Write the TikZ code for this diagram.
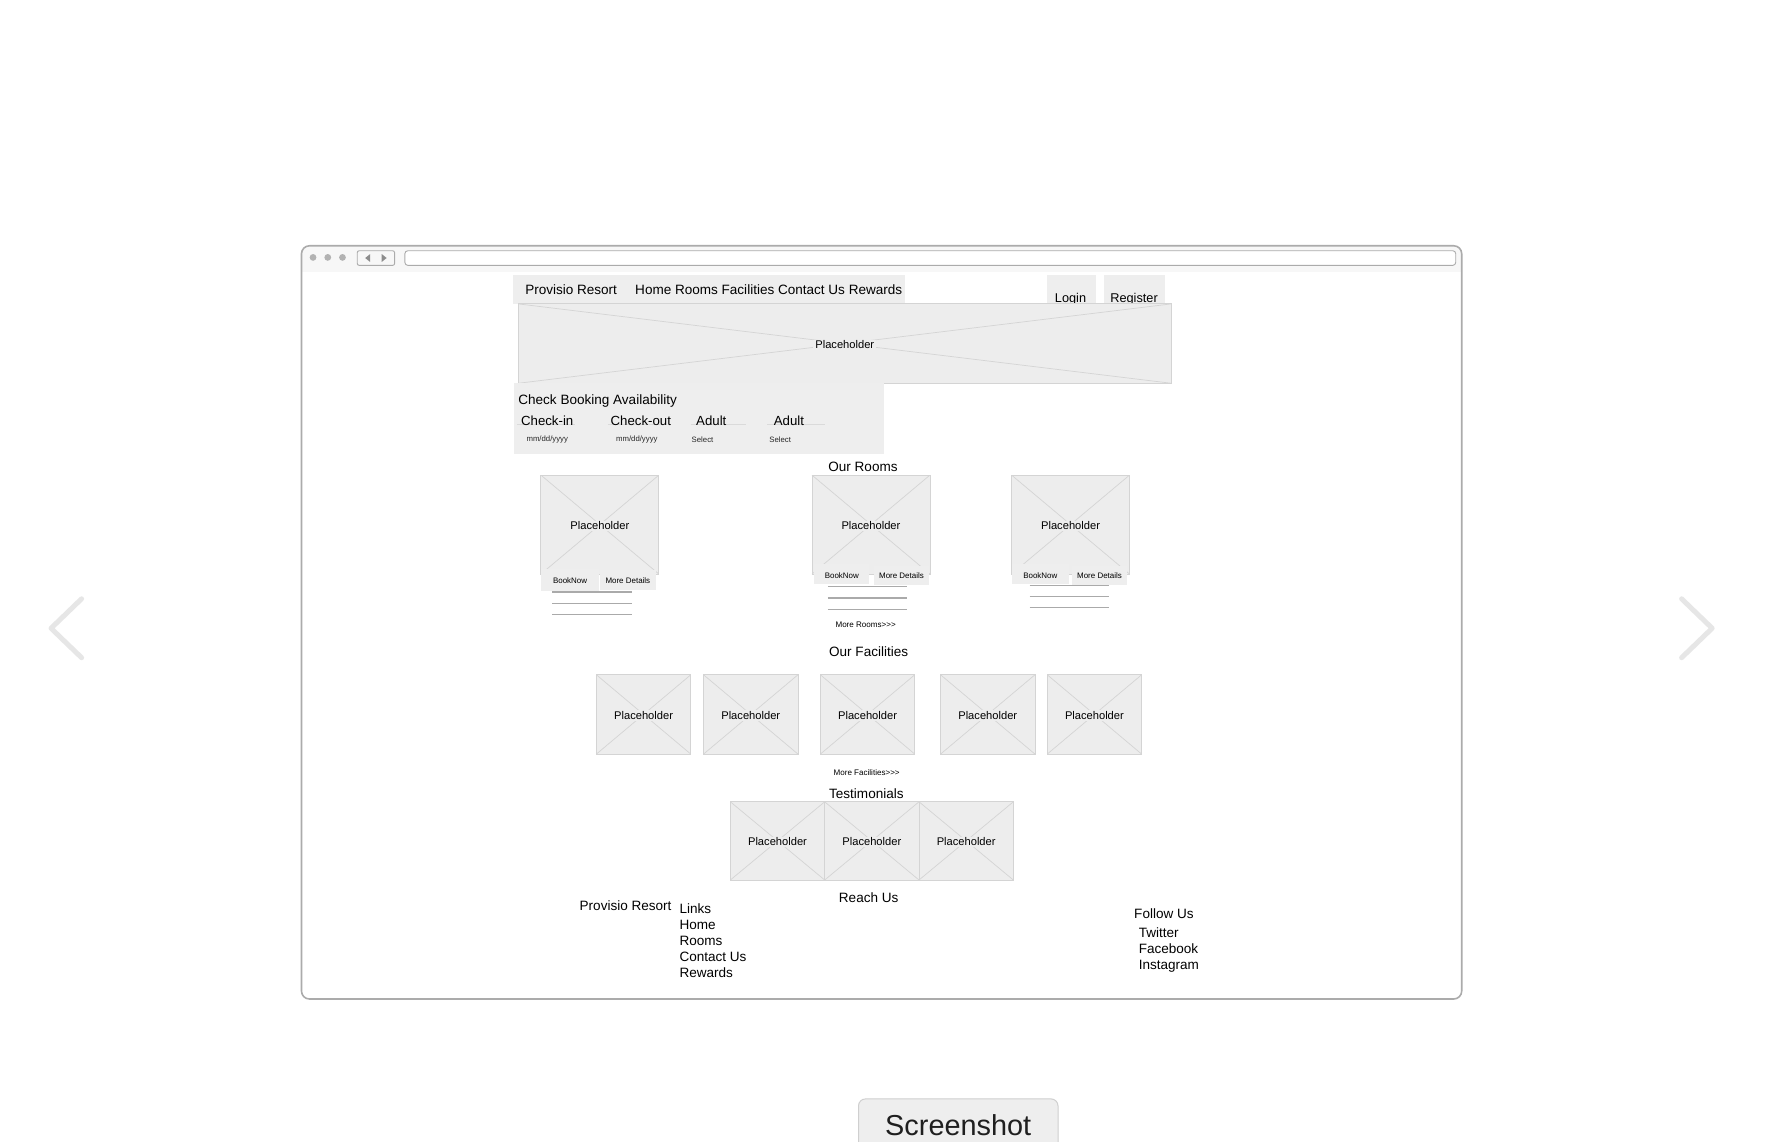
\documentclass[tikz,border=0pt]{standalone}
\usepackage{fontspec}
\setmainfont{Liberation Sans}

\definecolor{phfill}{HTML}{EDEDED}
\definecolor{phline}{HTML}{D4D4D4}
\definecolor{barfill}{HTML}{EEEEEE}
\definecolor{framegray}{HTML}{ABABAB}
\definecolor{toolbar}{HTML}{F7F7F7}
\definecolor{fieldline}{HTML}{DADADA}
\definecolor{infoline}{HTML}{AAAAAA}
\definecolor{chevgray}{HTML}{E6E6E6}
\definecolor{shotline}{HTML}{CFCFCF}

\begin{document}
\begin{tikzpicture}[x=1pt, y=-1pt]
    \tikzset{
      base/.style={inner sep=0pt, text height=0.72em, text depth=0pt},
      txt/.style={base, yshift=-2pt, font=\fontsize{13.6}{16}\selectfont},
      loginfont/.style={base, yshift=-2pt, font=\fontsize{12.8}{15}\selectfont},
      tinytxt/.style={base, yshift=-2pt, text=black!85, font=\fontsize{7.8}{9}\selectfont},
      phlabel/.style={base, yshift=-1pt, fill=phfill, inner xsep=2pt, inner ysep=1.5pt, font=\fontsize{11.2}{13}\selectfont},
      placeholder/.style={draw=phline, fill=phfill, inner sep=0pt, line width=0.9pt,
        path picture={\draw[phline, line width=0.7pt]
          (path picture bounding box.north west) -- (path picture bounding box.south east)
          (path picture bounding box.north east) -- (path picture bounding box.south west);},
        label={[phlabel]center:Placeholder}},
      panel/.style={fill=barfill, inner sep=0pt, anchor=north west},
      button/.style={base, fill=barfill, font=\fontsize{8}{9}\selectfont},
      chevron/.style={chevgray, line width=5pt, line cap=round, line join=round},
    }
    \useasboundingbox (0,0) rectangle (1786.9,1147.7);
    \clip (0,0) rectangle (1786.9,1147.7);
    \fill[white] (0,0) rectangle (1786.9,1147.7);

    % browser window
    \begin{scope}
      \clip[rounded corners=8] (303,247) rectangle (1469,1004);
      \fill[toolbar] (303,247) rectangle (1469,273);
    \end{scope}
    \draw[framegray, line width=1.6pt, rounded corners=8] (303,247) rectangle (1469,1004);
    \foreach \x in {314.6,329.4,344.2}
      \fill[black!30] (\x,258.7) circle (3.4);
    \draw[framegray, line width=0.9pt, rounded corners=2] (359,252) rectangle (396.6,266.7);
    \fill[black!45] (367,259.3) -- (372,255.3) -- (372,263.3) -- cycle;
    \fill[black!45] (388.6,259.3) -- (383.6,255.3) -- (383.6,263.3) -- cycle;
    \draw[framegray, line width=0.9pt, rounded corners=3, fill=white] (406.9,252) rectangle (1463,266.7);

    % header
    \node[panel, minimum width=394.4pt, minimum height=29.6pt] (navbar) at (515.1,275.8) {};
    \node[txt, anchor=west] (brand) at (527.7,290.6) {Provisio Resort};
    \node[txt, anchor=west] (menu) at (638.2,290.6) {Home Rooms Facilities Contact Us Rewards};
    \node[panel, minimum width=49pt, minimum height=34pt] (loginbox) at (1052,275.8) {};
    \node[panel, minimum width=61.5pt, minimum height=34pt] (registerbox) at (1109,275.8) {};
    \node[loginfont] (login) at (1075.9,298.6) {Login};
    \node[loginfont] (register) at (1139.7,298.6) {Register};
    \node[placeholder, minimum width=656.5pt, minimum height=79.8pt] (hero) at (849,345.3) {};

    % booking form
    \node[panel, minimum width=371.5pt, minimum height=70.7pt] (booking) at (516.3,385.2) {};
    \node[txt, anchor=west] (bookingtitle) at (520.8,401.2) {Check Booking Availability};
    \foreach \x/\w/\tx/\t [count=\i] in {520/58/523.5/Check-in, 611/57/613.5/Check-out, 694/56/699.5/Adult, 771/58/777.5/Adult} {
      \draw[fieldline, line width=0.8pt] (\x,427) -- ++(\w,0);
      \node[txt, anchor=west, font=\fontsize{13.3}{16}\selectfont] (field\i) at (\tx,421.7) {\t};
    }
    \node[tinytxt] (checkindate) at (550,438) {mm/dd/yyyy};
    \node[tinytxt] (checkoutdate) at (640,438) {mm/dd/yyyy};
    \node[tinytxt, anchor=west] (adultselect) at (695,439) {Select};
    \node[tinytxt, anchor=west] (childselect) at (773,439) {Select};

    % rooms
    \node[txt] (roomstitle) at (867.3,468.4) {Our Rooms};
    \foreach \x [count=\i] in {602.9,875.3,1075.9}
      \node[placeholder, minimum width=118.6pt, minimum height=99.5pt] (room\i) at (\x,527.2) {};
    \foreach \x/\y in {555/595, 832/589.6, 1034.7/588.3}
      \foreach \d in {0,11.3,22.6}
        \draw[infoline, line width=1.2pt] (\x,\y+\d) -- ++(80,0);
    \node[button, minimum width=58.3pt, minimum height=22pt] (book1) at (572.9,582.5) {BookNow};
    \node[button, minimum width=56pt, minimum height=20pt] (details1) at (631,583) {More Details};
    \node[button, minimum width=55pt, minimum height=20pt] (book2) at (846,577.3) {BookNow};
    \node[button, minimum width=56pt, minimum height=19pt] (details2) at (906,578) {More Details};
    \node[button, minimum width=57pt, minimum height=20pt] (book3) at (1045.5,577.3) {BookNow};
    \node[button, minimum width=56pt, minimum height=19pt] (details3) at (1105,578) {More Details};
    \node[tinytxt, text=black, font=\fontsize{8.1}{9}\selectfont] (morerooms) at (870,625) {More Rooms>{}>{}>};

    % facilities
    \node[txt] (facilitiestitle) at (873,654.2) {Our Facilities};
    \foreach \x [count=\i] in {646.8,754.5,871.9,992.7,1099.9}
      \node[placeholder, minimum width=95pt, minimum height=79.8pt] (facility\i) at (\x,718) {};
    \node[tinytxt, text=black, font=\fontsize{8.1}{9}\selectfont] (morefacilities) at (871,773.9) {More Facilities>{}>{}>};

    % testimonials
    \node[txt] (testimonialstitle) at (870.7,796.6) {Testimonials};
    \foreach \x [count=\i] in {781.4,876.2,971}
      \node[placeholder, minimum width=94.8pt, minimum height=78.6pt] (testimonial\i) at (\x,845.1) {};

    % footer
    \node[txt] (reachus) at (873,901.5) {Reach Us};
    \node[txt, anchor=west] (footerbrand) at (582.4,909.5) {Provisio Resort};
    \foreach \t [count=\i from 0] in {Links,Home,Rooms,Contact Us,Rewards}
      \node[txt, anchor=west] (link\i) at (682.7,912.9+16*\i) {\t};
    \node[txt, anchor=west] (followus) at (1139.7,917.5) {Follow Us};
    \foreach \t [count=\i from 0] in {Twitter,Facebook,Instagram}
      \node[txt, anchor=west] (social\i) at (1144.3,936.8+16*\i) {\t};

    % slider arrows and screenshot button
    \draw[chevron] (82,601.8) -- (51.3,631.4) -- (82,661);
    \draw[chevron] (1690,601.8) -- (1720.7,631.4) -- (1690,661);
    \draw[shotline, fill=barfill, line width=1pt, rounded corners=7]
      (862.8,1165) -- (862.8,1104.4) -- (1063.3,1104.4) -- (1063.3,1165) -- cycle;
    \node[base, text=black!88, font=\fontsize{29}{32}\selectfont] (screenshot) at (963,1137.4) {Screenshot};
\end{tikzpicture}
\end{document}
